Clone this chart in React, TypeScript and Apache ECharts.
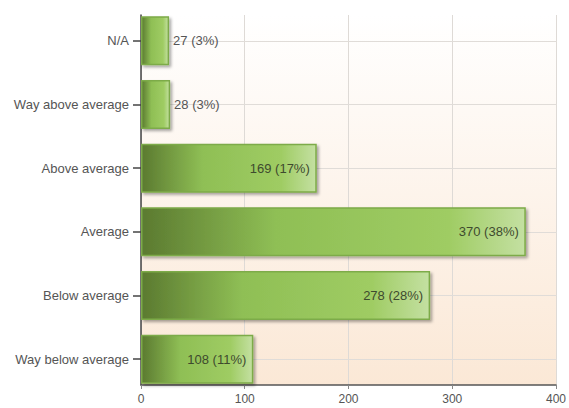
import React, { useEffect, useRef } from "react";
import * as echarts from "echarts";

const categories = ["N/A", "Way above average", "Above average", "Average", "Below average", "Way below average"];
const counts = [27, 28, 169, 370, 278, 108];
const percents = [3, 3, 17, 38, 28, 11];
const xTicks = [0, 100, 200, 300, 400];

export default function App() {
  const ref = useRef<HTMLDivElement>(null);
  useEffect(() => {
    if (!ref.current) return;
    const chart = echarts.init(ref.current, null, { renderer: "svg" });
    const barGradient = new echarts.graphic.LinearGradient(0, 0, 1, 0, [
      { offset: 0, color: "#5b7a30" },
      { offset: 0.35, color: "#8fbf55" },
      { offset: 0.8, color: "#9fcc63" },
      { offset: 1, color: "#c4e0a2" },
    ]);
    const bgGradient = new echarts.graphic.LinearGradient(0, 0, 0, 1, [
      { offset: 0, color: "#ffffff" },
      { offset: 1, color: "#fbe8d6" },
    ]);
    const font = "'Liberation Sans', Arial, sans-serif";
    chart.setOption({
      animation: false,
      grid: [
        { left: 141, right: 12, top: 9, bottom: 17, containLabel: false },
        { left: 141, right: 12, top: 15, bottom: 23, containLabel: false, show: true, backgroundColor: bgGradient, borderWidth: 0 },
      ],
      xAxis: [
        { gridIndex: 0, type: "value", min: 0, max: 400, show: false },
        {
          gridIndex: 1,
          type: "value",
          min: 0,
          max: 400,
          interval: 100,
          axisLine: { show: true, lineStyle: { color: "#555", width: 1.5 } },
          axisTick: { show: true, length: 4, lineStyle: { color: "#888" } },
          splitLine: { show: true, lineStyle: { color: "#dedad6", width: 1 } },
          axisLabel: {
            color: "#555",
            fontSize: 12,
            fontFamily: font,
            margin: 8,
            formatter: (v: number) => (xTicks.includes(v) ? String(v) : ""),
          },
        },
      ],
      yAxis: [
        {
          gridIndex: 0,
          type: "category",
          data: categories,
          inverse: true,
          axisLine: { show: false },
          axisTick: { show: true, alignWithLabel: true, length: 8, lineStyle: { color: "#444", width: 1.5 } },
          splitLine: { show: false },
          axisLabel: { color: "#555", fontSize: 13, fontFamily: font, margin: 12 },
        },
        {
          gridIndex: 1,
          type: "value",
          min: 0,
          max: 1,
          axisLine: { show: true, onZero: false, lineStyle: { color: "#444", width: 1.5 } },
          axisTick: { show: false },
          axisLabel: { show: false },
          splitLine: { show: false },
        },
      ],
      series: [
        {
          type: "line",
          xAxisIndex: 0,
          yAxisIndex: 0,
          data: [],
          z: 1,
          silent: true,
          markLine: {
            silent: true,
            z: 1,
            symbol: "none",
            label: { show: false },
            lineStyle: { color: "#e0dcd8", type: "solid", width: 1 },
            data: categories.map((c) => ({ yAxis: c })),
          },
        },
        {
          type: "bar",
          xAxisIndex: 0,
          yAxisIndex: 0,
          z: 3,
          barWidth: 49,
          data: counts.map((v, i) => ({
            value: v,
            label: {
              show: true,
              position: v < 60 ? "right" : "insideRight",
              distance: v < 60 ? 4 : 7,
              color: v < 60 ? "#555" : "#3e4a2e",
              fontSize: 13,
              fontFamily: font,
              formatter: `${v} (${percents[i]}%)`,
            },
          })),
          itemStyle: {
            color: barGradient,
            borderColor: "#7dab48",
            borderWidth: 1.5,
            shadowColor: "rgba(0,0,0,0.35)",
            shadowBlur: 3,
            shadowOffsetX: 2,
            shadowOffsetY: 2,
          },
        },
      ],
    });
    return () => chart.dispose();
  }, []);
  return <div ref={ref} style={{ width: 569, height: 408, position: "absolute", left: 0, top: 0 }} />;
}
